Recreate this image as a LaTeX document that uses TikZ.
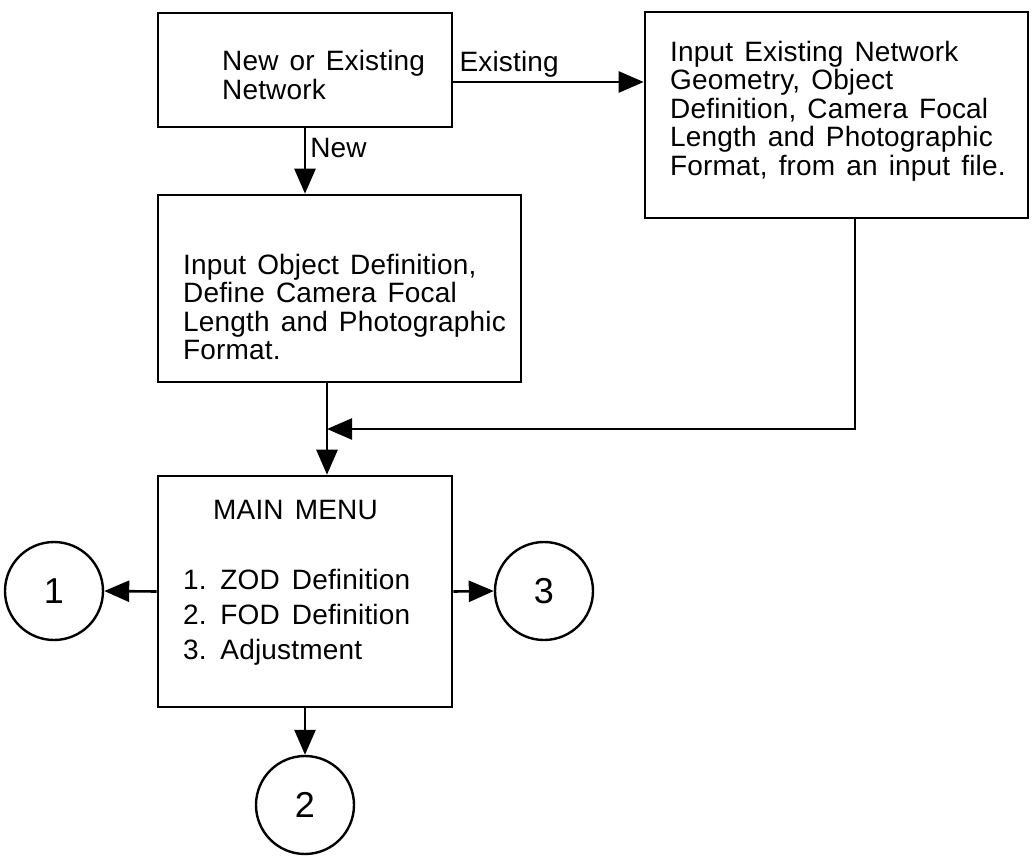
\documentclass[tikz,border=0pt]{standalone}
\usepackage{fontspec}
\setmainfont{Liberation Sans}[WordSpace=1.4, LetterSpace=0.6]
\usepackage{tikz}
\usetikzlibrary{positioning,calc,arrows.meta}

\begin{document}
\begin{tikzpicture}[x=1pt, y=-1pt,
    box/.style={draw, line width=2.6pt, rectangle, inner sep=0pt},
    txt/.style={inner sep=0pt, align=left, anchor=west, font=\fontsize{28}{28.5}\selectfont},
    lbl/.style={inner sep=0pt, font=\fontsize{28}{28.5}\selectfont},
    num/.style={draw, circle, line width=2.4pt, minimum size=98pt, inner sep=0pt, font=\fontsize{36}{40}\selectfont},
    arr/.style={line width=2.6pt, -{Triangle[length=25pt, width=21pt]}}]
    \useasboundingbox (0,0) rectangle (1033,856);

    % Boxes
    \node[box, minimum width=294pt, minimum height=114pt] (netq) at (305,70) {};
    \node[txt] (netqtxt) at (222,75) {New or Existing\\Network};

    \node[box, minimum width=383pt, minimum height=206pt] (exist) at (836.5,115) {};
    \node[txt] (existtxt) at (670,111) {Input Existing Network\\Geometry, Object\\Definition, Camera Focal\\Length and Photographic\\Format, from an input file.};

    \node[box, minimum width=363pt, minimum height=187pt] (newnet) at (339.5,288.5) {};
    \node[txt] (newtxt) at (183,307) {Input Object Definition,\\Define Camera Focal\\Length and Photographic\\Format.};

    \node[box, minimum width=294pt, minimum height=231pt] (menu) at (305,591.5) {};
    \node[txt, font=\fontsize{28}{35}\selectfont] (menutxt) at (183,583) {\hspace*{30pt}MAIN MENU\\[35pt]1. ZOD\hspace{12pt}Definition\\2. FOD\hspace{12pt}Definition\\3. Adjustment};

    % Circles
    \node[num] (one) at (54,591) {1};
    \node[num] (three) at (544,591) {3};
    \node[num] (two) at (305,805) {2};

    % Connectors
    \coordinate (join) at (327,429);
    \coordinate (bturn) at (855,429);
    \draw[arr] ([yshift=-12pt]netq.east) node[lbl, anchor=south west, xshift=5pt, yshift=3pt] (lblexist) {Existing}
        -- ([yshift=-12pt]netq.east -| exist.west);
    \draw[arr] (netq.south) node[lbl, anchor=north west, xshift=4pt, yshift=-9pt] (lblnew) {New}
        -- (newnet.north -| netq.south);
    \draw[arr] (newnet.south -| join) -- (menu.north -| join);
    \draw[arr] (exist.south -| bturn) -- (bturn) -- (join);
    \draw[arr] (menu.west) -- (one.east);
    \draw[arr] (menu.east) -- (three.west);
    \draw[arr] (menu.south) -- (two.north);
\end{tikzpicture}
\end{document}
